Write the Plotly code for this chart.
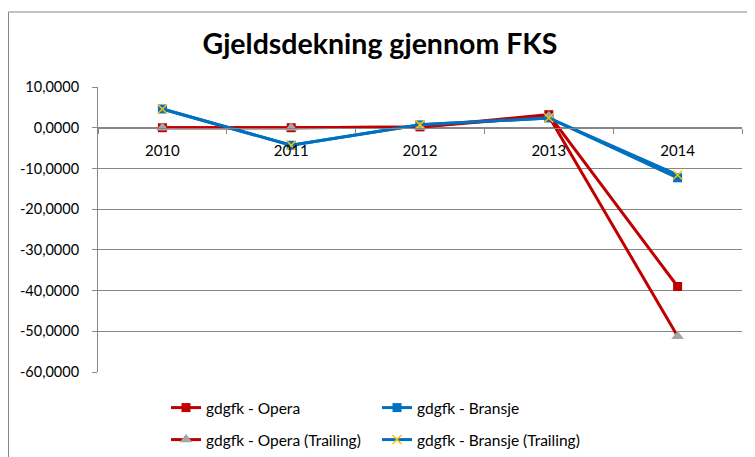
import plotly.graph_objects as go

years = ["2010", "2011", "2012", "2013", "2014"]
opera = [0.0, 0.0, 0.2, 3.2, -39.0]
bransje = [4.6, -4.3, 0.7, 2.4, -12.3]
opera_tr = [0.0, 0.0, 0.2, 2.8, -51.2]
bransje_tr = [4.6, -4.3, 0.7, 2.4, -11.6]
ytick_vals = [10, 0, -10, -20, -30, -40, -50, -60]
ytick_text = ["10,0000", "0,0000", "-10,0000", "-20,0000", "-30,0000", "-40,0000", "-50,0000", "-60,0000"]

RED = "#C00000"
BLUE = "#0070C0"
GRAY = "#A5A5A5"
GOLD = "#FFC000"
AXIS = "#878787"
FONT = "Lato"

# page is rendered with an 8px body margin: compensate in figure coords
OFF = 8
L, T, R, B = 98 - OFF, 87 - OFF, 742 - OFF, 372 - OFF
W, H = 755, 457
PW, PH = R - L, B - T

fig = go.Figure()
fig.add_trace(go.Scatter(x=years, y=opera, name="gdgfk - Opera", mode="lines+markers",
                         line=dict(color=RED, width=3),
                         marker=dict(symbol="square", size=9, color=RED), legend="legend"))
fig.add_trace(go.Scatter(x=years, y=bransje, name="gdgfk - Bransje", mode="lines+markers",
                         line=dict(color=BLUE, width=3),
                         marker=dict(symbol="square", size=9, color=BLUE), legend="legend"))
fig.add_trace(go.Scatter(x=years, y=opera_tr, name="gdgfk - Opera (Trailing)", mode="lines+markers",
                         line=dict(color=RED, width=3),
                         marker=dict(symbol="triangle-up", size=11, color=GRAY), legend="legend2"))
fig.add_trace(go.Scatter(x=years, y=bransje_tr, name="gdgfk - Bransje (Trailing)", mode="lines+markers",
                         line=dict(color=BLUE, width=3),
                         marker=dict(symbol="x-thin", size=9, color=GOLD,
                                     line=dict(color=GOLD, width=1.5)), legend="legend2"))

zero_pos = (0 - (-60)) / 70.0

fig.add_shape(type="rect", xref="paper", yref="paper",
              x0=(0.5 - L) / PW, x1=1.2, y0=-0.5, y1=(B - (12 - OFF)) / PH,
              line=dict(color=AXIS, width=1), fillcolor="rgba(0,0,0,0)", layer="below")

leg_x = (166 - OFF - L) / PW
leg_common = dict(orientation="h", x=leg_x, xanchor="left", yanchor="middle",
                  entrywidth=166, font=dict(size=15.5, family=FONT), traceorder="normal",
                  bgcolor="rgba(0,0,0,0)")

fig.update_layout(
    width=W, height=H,
    margin=dict(l=L, r=W - R, t=T, b=H - B, autoexpand=False),
    paper_bgcolor="white", plot_bgcolor="white",
    font=dict(family=FONT, size=15, color="black"),
    title=dict(text="<b>Gjeldsdekning gjennom FKS</b>", x=(380 - OFF) / W, xanchor="center",
               y=1 - (44 - OFF) / H, yanchor="middle", font=dict(family=FONT, size=28.5, color="black")),
    showlegend=True,
    legend=dict(y=(B - (408 - OFF)) / PH, **leg_common),
    legend2=dict(y=(B - (440 - OFF)) / PH, **leg_common),
    xaxis=dict(type="category", anchor="free", position=zero_pos,
               showline=True, linecolor=AXIS, linewidth=1,
               ticks="outside", ticklen=5, tickcolor=AXIS, tickson="boundaries",
               ticklabelstandoff=9,
               showgrid=False, tickfont=dict(size=15), range=[-0.5, 4.5]),
    yaxis=dict(range=[-60, 10], tickvals=ytick_vals, ticktext=ytick_text,
               showline=True, linecolor=AXIS, linewidth=1,
               ticks="outside", ticklen=5, tickcolor=AXIS, ticklabelstandoff=10,
               showgrid=True, gridcolor=AXIS, gridwidth=1, zeroline=False,
               tickfont=dict(size=14.5)),
)

fig.write_html("out.html")
